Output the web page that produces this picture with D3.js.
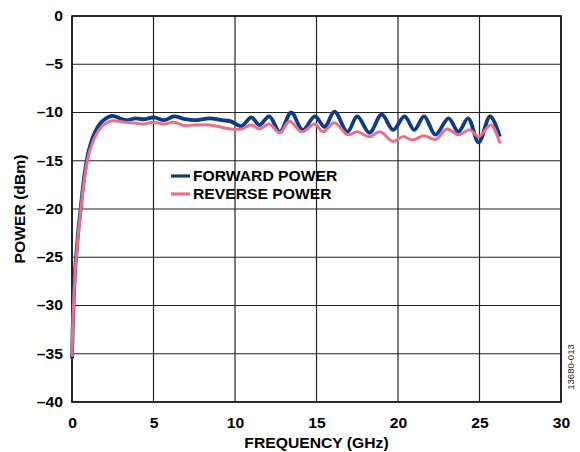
<!DOCTYPE html>
<html><head><meta charset="utf-8">
<script src="https://cdn.jsdelivr.net/npm/d3@7"></script>
<style>body{margin:0;background:#fff}svg{display:block}</style>
</head><body><svg id="c" width="580" height="452"></svg>
<script>
const xTicks = [0,5,10,15,20,25,30];
const yTicks = [0,-5,-10,-15,-20,-25,-30,-35,-40];
const seriesNames = ["FORWARD POWER","REVERSE POWER"];
const forwardFreq = [0,0.05,0.1,0.2,0.3,0.4,0.53,0.7,0.9,1.05,1.45,1.8,2.1,2.47,3.3,3.9,4.4,5.03,5.65,6.26,6.87,7.5,8.47,9.2,9.7,10.4,11.0,11.5,12.1,12.75,13.45,14.15,14.9,15.5,16.1,16.9,17.5,18.25,19.0,19.7,20.4,21.0,21.6,22.3,23.1,23.7,24.3,24.95,25.65,26.25];
const forwardPower = [-35.5,-32,-29.5,-26,-24,-22,-20,-17.3,-15,-13.8,-11.9,-11.0,-10.6,-10.36,-10.8,-10.6,-10.7,-10.5,-10.8,-10.4,-10.65,-10.8,-10.6,-10.8,-10.9,-11.4,-10.5,-11.3,-10.4,-12.0,-10.0,-11.8,-10.4,-11.5,-9.9,-12.0,-10.4,-12.1,-10.2,-11.8,-10.4,-11.8,-10.4,-12.3,-10.6,-12.0,-10.6,-13.1,-10.4,-12.5];
const reverseFreq = [0,0.05,0.1,0.2,0.3,0.4,0.53,0.7,0.9,1.05,1.45,1.8,2.1,2.5,3.25,3.85,4.4,5.0,5.65,6.26,6.87,7.5,8.47,9.7,10.4,11.0,11.5,12.1,12.75,13.35,14.1,14.9,15.4,16.1,16.9,17.5,18.25,18.9,19.7,20.3,20.9,21.6,22.3,23.0,23.7,24.4,24.95,25.7,26.25];
const reversePower = [-35.3,-32,-29.7,-26.3,-24.3,-22.3,-20.3,-17.7,-15.4,-14.2,-12.4,-11.5,-11.1,-10.85,-11.0,-11.1,-11.2,-11.0,-11.2,-11.0,-11.35,-11.3,-11.3,-11.7,-11.7,-11.3,-11.7,-11.2,-12.1,-10.9,-12.0,-11.2,-12.0,-11.05,-12.3,-12.0,-12.5,-12.0,-13.0,-12.5,-12.85,-12.4,-12.8,-11.7,-12.3,-11.8,-12.5,-11.3,-13.2];
const colors = ["#0f3a85","#ec6f88"];

const svg = d3.select("#c");
const L=72,R=561,T=16,B=402;
const SX = 1.12;
const x = d3.scaleLinear().domain([0,30]).range([L,R]);
const y = d3.scaleLinear().domain([-40,0]).range([B,T]);
const font = "'Liberation Sans', Arial, sans-serif";

// grid
const g = svg.append("g");
g.selectAll(".vx").data(xTicks).join("line")
  .attr("x1",d=>x(d)).attr("x2",d=>x(d)).attr("y1",T).attr("y2",B)
  .attr("stroke","#222").attr("stroke-width",1.2);
g.selectAll(".hy").data(yTicks).join("line")
  .attr("x1",L).attr("x2",R).attr("y1",d=>y(d)).attr("y2",d=>y(d))
  .attr("stroke","#222").attr("stroke-width",1.2);
g.append("rect").attr("x",L).attr("y",T).attr("width",R-L).attr("height",B-T)
  .attr("fill","none").attr("stroke","#111").attr("stroke-width",1.6);

// axes labels via d3 axes
const xa = svg.append("g").attr("transform",`translate(0,${B})`)
  .call(d3.axisBottom(x).tickValues(xTicks).tickSize(0).tickPadding(16).tickFormat(d3.format("d")));
const ya = svg.append("g").attr("transform",`translate(${L},0)`)
  .call(d3.axisLeft(y).tickValues(yTicks).tickSize(0).tickPadding(9).tickFormat(d=>d<0?"\u2013"+Math.abs(d):String(d)));
[xa,ya].forEach(a=>{a.select(".domain").remove();
  a.selectAll("text").attr("font-family",font).attr("font-weight","bold").attr("font-size",14).attr("fill","#000");});
ya.selectAll("text").attr("x",-9/SX).attr("transform",`scale(${SX},1)`);
xa.selectAll("text").attr("transform",`scale(${SX},1)`);

// lines
const line = d3.line().x(d=>x(d[0])).y(d=>y(d[1])).curve(d3.curveCatmullRom.alpha(0.5));
const fwd = forwardFreq.map((f,i)=>[f,forwardPower[i]]);
const rev = reverseFreq.map((f,i)=>[f,reversePower[i]]);
svg.append("path").datum(fwd).attr("d",line).attr("fill","none").attr("stroke",colors[0]).attr("stroke-width",3.8).attr("stroke-linejoin","round");
svg.append("path").datum(rev).attr("d",line).attr("fill","none").attr("stroke",colors[1]).attr("stroke-width",3).attr("stroke-linejoin","round");

// legend
const lg = svg.append("g");
seriesNames.forEach((n,i)=>{
  const yy = 176 + i*18;
  lg.append("line").attr("x1",171).attr("x2",190).attr("y1",yy).attr("y2",yy).attr("stroke",colors[i]).attr("stroke-width",3.2);
  lg.append("text").attr("transform",`translate(193,${yy+5}) scale(${SX},1)`).text(n).attr("font-family",font).attr("font-weight","bold").attr("font-size",14);
});

// titles
svg.append("text").attr("transform",`translate(${(L+R)/2},448) scale(${SX},1)`).attr("text-anchor","middle").text("FREQUENCY (GHz)")
  .attr("font-family",font).attr("font-weight","bold").attr("font-size",14);
svg.append("text").attr("transform",`translate(25,${(T+B)/2}) rotate(-90) scale(${SX},1)`).attr("text-anchor","middle").text("POWER (dBm)")
  .attr("font-family",font).attr("font-weight","bold").attr("font-size",14);
svg.append("text").attr("transform",`translate(574,367) rotate(-90)`).attr("text-anchor","middle").text("13680-013")
  .attr("font-family",font).attr("font-size",9.5).attr("fill","#222");
</script></body></html>
